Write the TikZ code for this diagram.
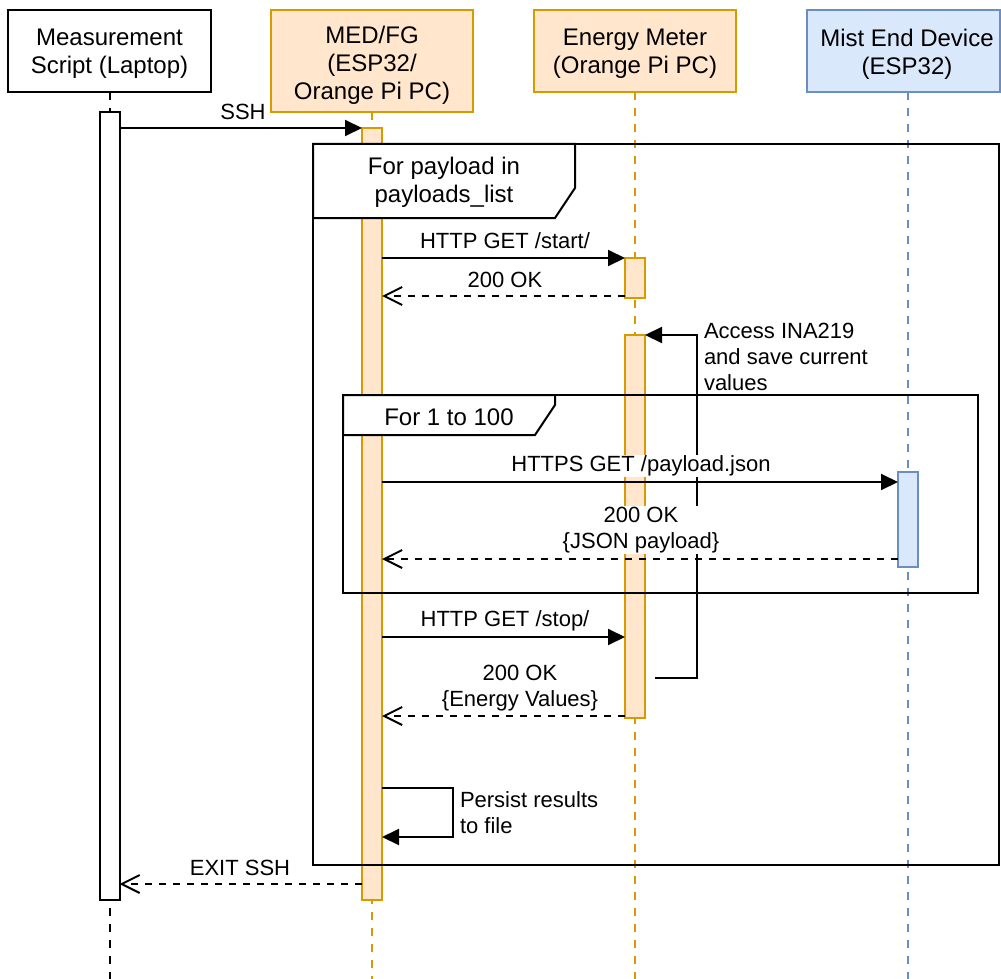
\documentclass[tikz,border=0pt]{standalone}
\usepackage{fontspec}
\setmainfont{Liberation Sans}
\usetikzlibrary{arrows.meta,calc}
\definecolor{orfill}{HTML}{FFE6CC}
\definecolor{orline}{HTML}{D79B00}
\definecolor{blfill}{HTML}{DAE8FC}
\definecolor{blline}{HTML}{6C8EBF}
\begin{document}
\begin{tikzpicture}[x=0.5pt,y=-0.5pt,
  every node/.style={inner sep=0pt, outer sep=0pt},
  hdr/.style={draw, line width=1pt, minimum height=41pt},
  htxt/.style={align=center, font=\fontsize{12}{14}\selectfont},
  orbox/.style={draw=orline, fill=orfill},
  blbox/.style={draw=blline, fill=blfill},
  lifeline/.style={line width=1pt, dash pattern=on 4pt off 4pt},
  act/.style={draw, line width=1pt, minimum width=10pt, fill=white},
  sync/.style={line width=1pt, -{Triangle[length=8.5pt,width=8pt]}},
  ret/.style={line width=1pt, dash pattern=on 3.5pt off 3.5pt, -{Straight Barb[length=9pt,width=9pt]}},
  lbl/.style={fill=white, align=center, font=\fontsize{11}{13}\selectfont, inner sep=0.5pt},
  note/.style={align=left, font=\fontsize{11}{13}\selectfont},
  umlframe/.style={draw, line width=1pt},
  flbl/.style={align=center, font=\fontsize{12}{14}\selectfont}
]
\useasboundingbox (0,0) rectangle (1001,979);

% headers
\node[hdr, minimum width=101.5pt] (hMS) at (109.5,51) {};
\node[htxt] (tMS) at (109.5,54) {Measurement\\Script (Laptop)};
\node[hdr, orbox, minimum width=101pt, minimum height=51pt] (hMED) at (372,61) {};
\node[htxt] (tMED) at (372,65) {MED/FG\\(ESP32/\\Orange Pi PC)};
\node[hdr, orbox, minimum width=101pt] (hEM) at (635,51) {};
\node[htxt] (tEM) at (635,54) {Energy Meter\\(Orange Pi PC)};
\node[hdr, blbox, minimum width=96.5pt] (hMist) at (903.5,51) {};
\node[htxt] (tMist) at (907,54) {Mist End Device\\(ESP32)};
\coordinate (bot) at (0,979);
\coordinate (mistTop) at (908,92);

% lifelines
\draw[lifeline] (hMS.south) -- (hMS.south |- bot);
\draw[lifeline, orline] (hMED.south) -- (hMED.south |- bot);
\draw[lifeline, orline] (hEM.south) -- (hEM.south |- bot);
\draw[lifeline, blline] (mistTop) -- (mistTop |- bot);

% activations
\node[act, minimum height=394pt] (aMS) at (109.5,506) {};
\node[act, orbox, minimum height=386pt] (aMED) at (372,514) {};
\node[act, orbox, minimum height=20pt] (aEM1) at (635,278) {};
\node[act, orbox, minimum height=191.5pt] (aEM2) at (635,526.5) {};
\node[act, blbox, minimum height=47.5pt] (aMist) at (908,519.5) {};

% frames
\draw[umlframe] (313,144) rectangle (998.5,865);
\draw[umlframe, fill=white] (313,144) -- (575,144) -- (575,188) -- (555,218) -- (313,218) -- cycle;
\node[flbl] (fOuter) at (444,182) {For payload in\\payloads\_list};
\draw[umlframe] (343,395) rectangle (978,593);
\draw[umlframe, fill=white] (343,395) -- (555,395) -- (555,405) -- (535,435) -- (343,435) -- cycle;
\node[flbl] (fInner) at (449,417) {For 1 to 100};

% y levels
\coordinate (ySSH) at (0,128);
\coordinate (yStart) at (0,258);
\coordinate (yOK1) at (0,296);
\coordinate (yHTTPS) at (0,482);
\coordinate (yJSON) at (0,559);
\coordinate (yStop) at (0,637);
\coordinate (yEV) at (0,716);
\coordinate (yP1) at (0,788);
\coordinate (yP2) at (0,837);
\coordinate (yExit) at (0,884);
\coordinate (sA) at (655,678);

% messages
\draw[sync] (aMS.east |- ySSH) -- (aMED.west |- ySSH);
\draw[sync] (aMED.east |- yStart) -- (aEM1.west |- yStart);
\draw[ret] (aEM1.west |- yOK1) -- (aMED.east |- yOK1);
\draw[sync] (sA) -- ++(42,0) |- (aEM2.north east);
\draw[sync] (aMED.east |- yHTTPS) -- (aMist.west |- yHTTPS);
\draw[ret] (aMist.west |- yJSON) -- (aMED.east |- yJSON);
\draw[sync] (aMED.east |- yStop) -- (aEM2.west |- yStop);
\draw[ret] (aEM2.west |- yEV) -- (aMED.east |- yEV);
\draw[sync] (aMED.east |- yP1) -- ++(71,0) -- ++(0,49) -- (aMED.east |- yP2);
\draw[ret] (aMED.west |- yExit) -- (aMS.east |- yExit);

% labels
\node[lbl] (lSSH) at (243,112) {SSH};
\node[lbl] (lStart) at (505,241) {HTTP GET /start/};
\node[lbl] (lOK1) at (505,280) {200 OK};
\node[note, anchor=west] (lAcc) at (704,357) {Access INA219\\and save current\\values};
\node[lbl] (lHTTPS) at (641,466) {HTTPS GET /payload.json};
\node[lbl] (lJSON) at (641,530) {200 OK\\\{JSON payload\}};
\node[lbl] (lStop) at (505,621) {HTTP GET /stop/};
\node[lbl] (lEV) at (520,688) {200 OK\\\{Energy Values\}};
\node[note, anchor=west] (lPers) at (460,813) {Persist results\\to file};
\node[lbl] (lExit) at (240,868) {EXIT SSH};
\end{tikzpicture}
\end{document}
